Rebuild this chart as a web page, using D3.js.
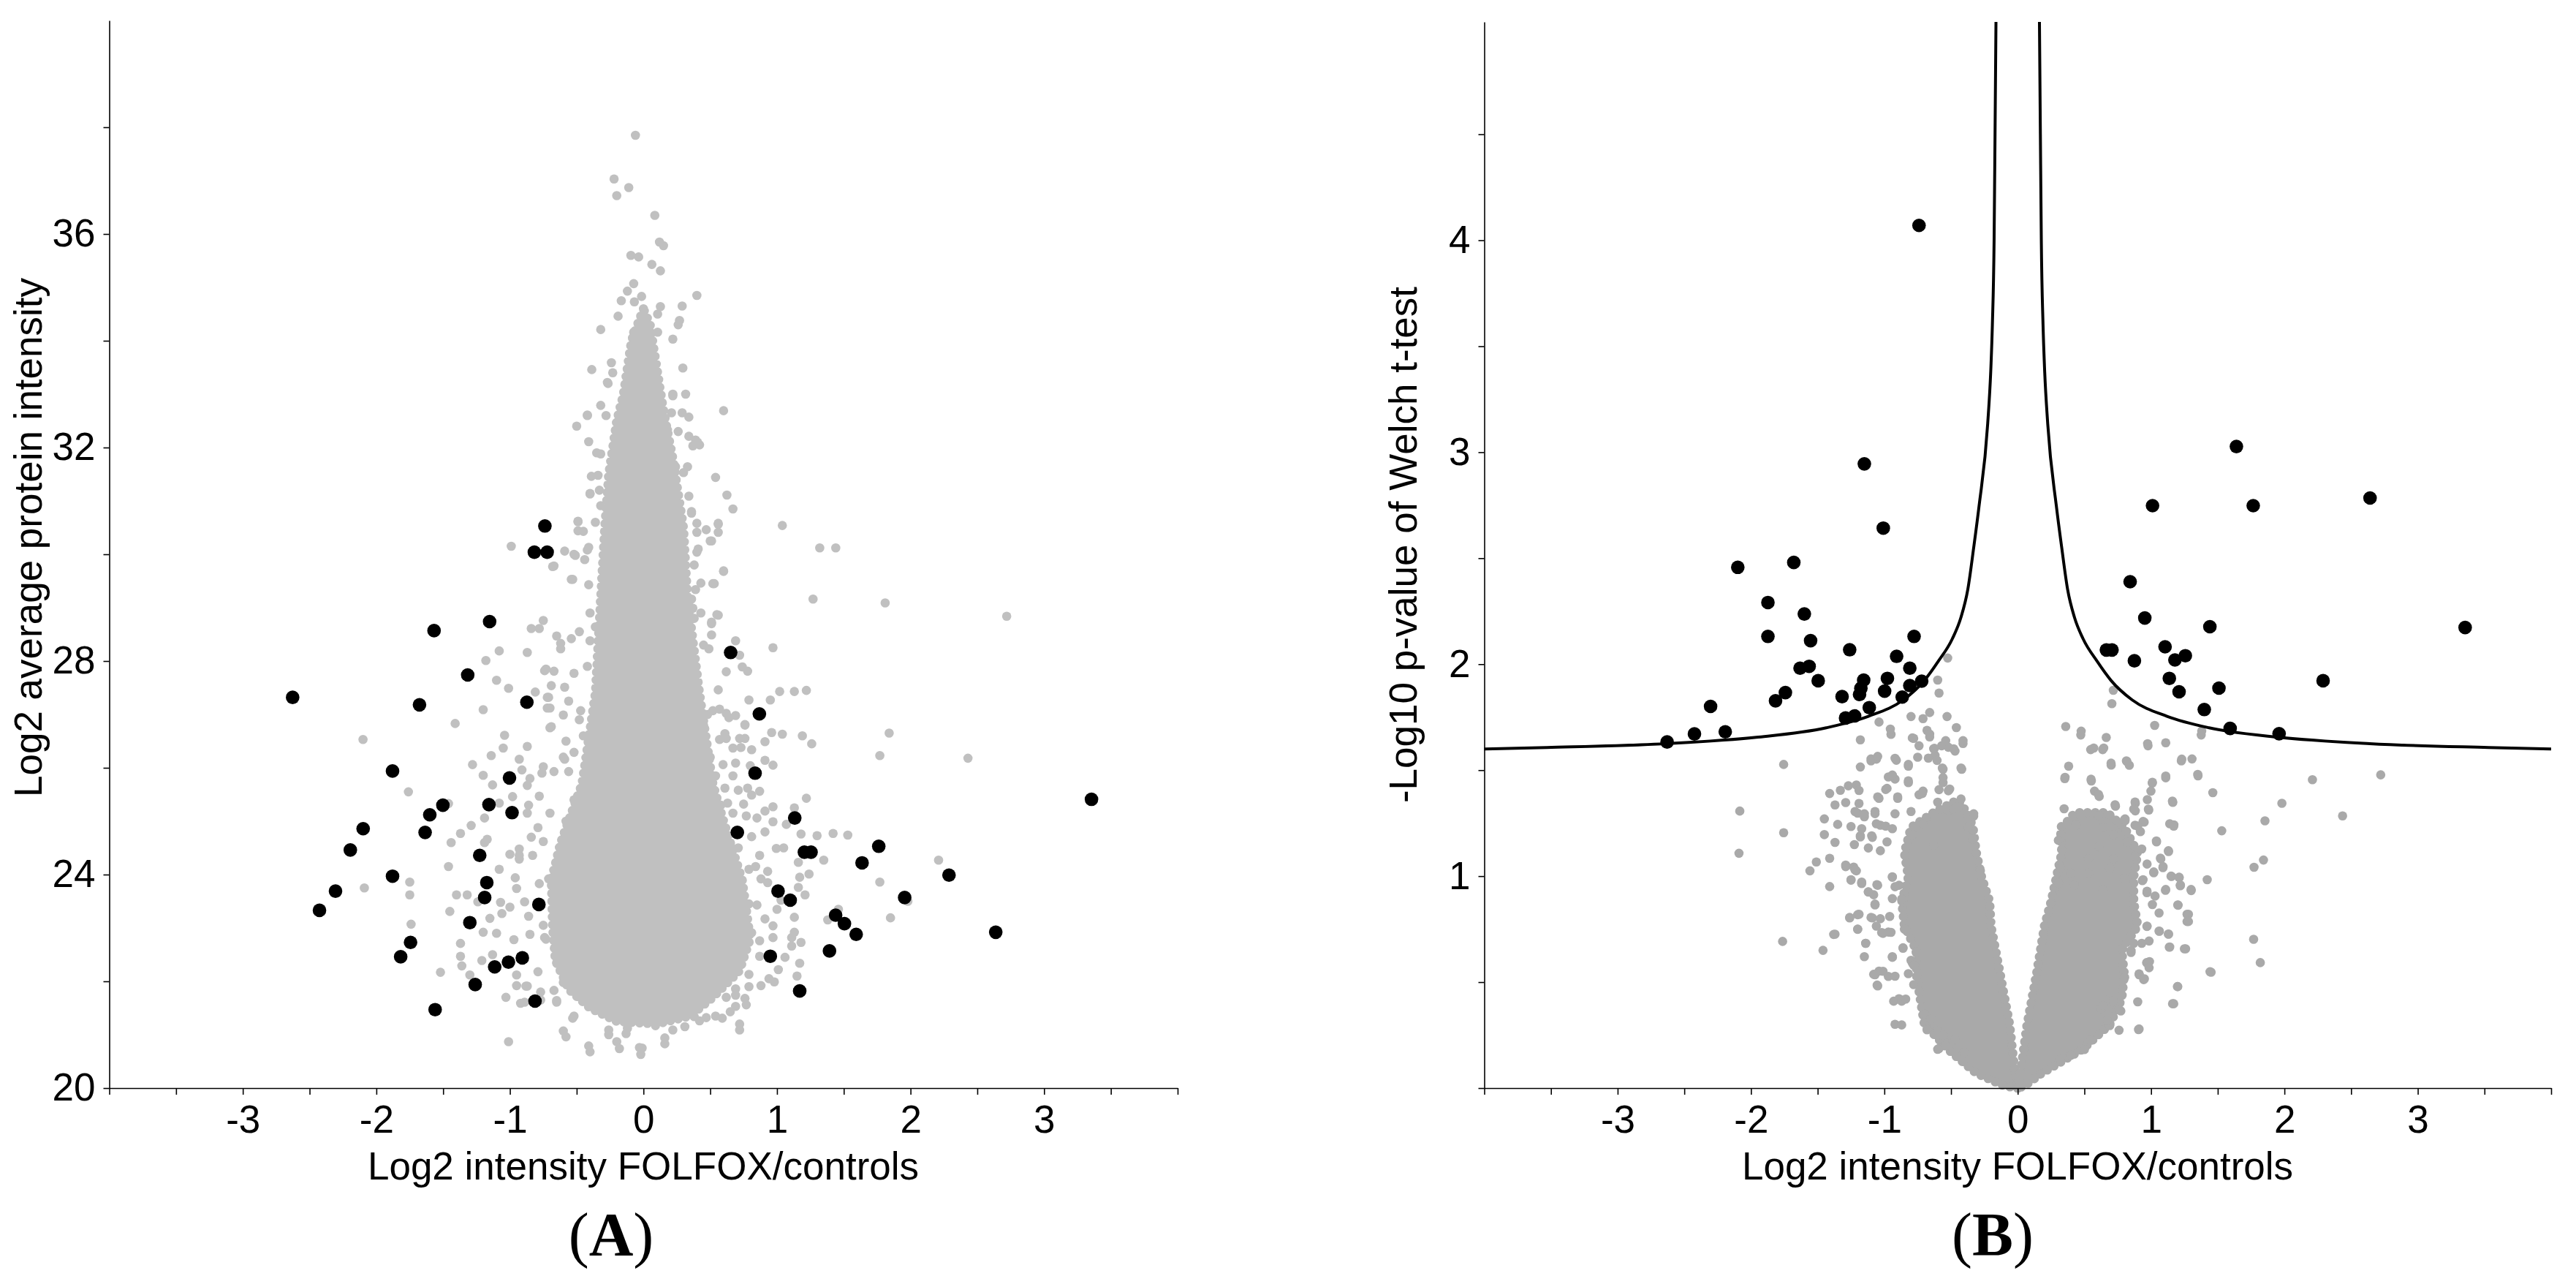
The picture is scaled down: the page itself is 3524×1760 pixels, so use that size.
<!DOCTYPE html>
<html>
<head>
<meta charset="utf-8">
<script src="https://cdn.jsdelivr.net/npm/d3@7"></script>
<style>
  body { margin: 0; background: #fff; }
  svg { display: block; }
  .tick text { font-family: 'Liberation Sans', Arial, sans-serif; font-size: 53px; fill: #000; }
  .axis-title { font-family: 'Liberation Sans', Arial, sans-serif; font-size: 53px; fill: #000; }
  .panel-label { font-family: 'Liberation Serif', 'Times New Roman', serif; font-size: 84px; fill: #000; }
</style>
</head>
<body>
<div id="chart"></div>
<script>
// tick labels
const xTickLabels = [-3, -2, -1, 0, 1, 2, 3];
const aYTickLabels = [20, 24, 28, 32, 36];
const bYTickLabels = [1, 2, 3, 4];

// panel A: outline of the solid core (log2 ratio, log2 intensity)
const aCore = [[0.0,34.6],[-0.09,34.0],[-0.15,33.0],[-0.2,32.5],[-0.26,31.5],[-0.29,30.5],[-0.32,29.2],[-0.36,27.4],
  [-0.46,25.7],[-0.62,24.6],[-0.69,23.9],[-0.68,23.0],[-0.66,22.4],[-0.56,21.85],[-0.40,21.5],[-0.2,21.25],
  [0.1,21.2],[0.35,21.35],[0.52,21.7],[0.72,22.2],[0.80,22.8],[0.74,23.9],[0.60,25.0],[0.52,25.7],[0.42,27.4],
  [0.33,29.2],[0.30,30.5],[0.22,31.8],[0.15,32.7],[0.10,33.5],[0.05,34.3]];

// panel A: other proteins
const aGray = [[-0.06,37.85],[-0.22,37.03],[-0.11,36.87],[-0.20,36.72],[0.085,36.35],[0.12,35.85],[0.15,35.78],[-0.094,35.6],
  [-0.036,35.57],[0.063,35.43],[0.127,35.31],[-0.073,35.07],[-0.12,34.93],[0.40,34.85],[-0.166,34.75],[-0.068,34.73],
  [-0.014,34.83],[0.127,34.64],[0.29,34.65],[-0.19,34.46],[0.106,34.5],[0.022,34.35],[0.27,34.38],[0.26,34.3],[-0.32,34.21],
  [-0.073,34.16],[0.106,34.16],[0.22,34.03],[-0.387,33.46],[-0.24,33.59],[-0.27,33.22],[0.295,33.49],[0.316,33.0],[0.60,32.69],
  [-0.42,32.6],[-0.50,32.4],[-0.41,32.11],[0.405,32.1],[0.37,32.03],[0.54,31.44],[0.625,31.11],[0.67,30.85],[0.36,30.77],
  [-0.49,30.44],[0.40,30.41],[0.56,30.41],[-0.39,31.46],[-0.33,31.2],[-0.40,31.14],[0.24,31.64],[0.33,31.64],[0.18,32.33],
  [0.21,32.65],[0.17,32.01],[0.22,32.97],[0.29,32.65],[0.34,32.21],
  [-0.99,30.15],[-0.68,29.77],[-0.53,29.53],[-0.51,29.98],[-0.59,30.06],[-0.42,30.08],[-0.49,30.61],[-0.75,28.76],[-0.84,28.61],
  [-0.78,28.61],[-1.08,28.19],[-0.87,28.16],[-1.18,28.01],[-1.10,27.64],[-1.01,27.49],[-0.74,27.82],[-0.81,27.42],[-0.69,27.54],
  [-1.20,27.09],[-1.41,26.83],[-0.72,27.32],[-0.72,27.12],[-1.04,26.61],[-1.05,26.37],[-0.87,26.40],[-0.70,26.75],[-2.10,26.53],
  [-1.28,26.06],[-1.14,26.23],[-0.93,26.16],[-1.20,25.86],[-0.91,25.96],[-1.76,25.55],[-1.13,25.68],[-0.98,25.46],[-1.08,25.34],
  [-1.46,25.33],[-0.86,25.30],[-1.19,25.06],[-1.29,24.92],[-1.37,24.77],[-1.44,24.60],[-1.19,24.60],[-1.17,24.66],[-0.93,24.48],
  [-0.84,24.70],[-1.46,24.15],[-1.08,24.10],[-1.00,24.38],[-0.96,23.94],[-0.93,24.29],[-2.09,23.75],[-1.75,23.86],[-1.75,23.62],
  [-1.40,23.62],[-1.32,23.62],[-1.24,23.49],[-1.07,23.48],[-1.00,23.39],[-0.89,23.49],[-1.45,23.31],[-1.15,23.18],[-1.06,23.27],
  [-0.86,23.22],[-1.74,23.07],[-1.37,22.71],[-1.20,22.92],[-1.10,22.90],[-0.97,22.78],[-1.13,22.50],[-1.37,22.47],[-1.36,22.29],
  [-1.52,22.17],[-1.21,22.39],[-1.30,22.12],[-0.95,22.12],[-0.95,21.92],[-0.88,21.91],[-1.03,21.70],[-0.92,21.59],[-0.65,21.64],
  [-0.60,21.07],[-1.01,20.87],[-0.41,20.79],[-0.20,20.87],[-0.03,20.76],[-0.26,21.09],[-0.12,21.12],[-0.53,21.31],[-0.77,21.80],
  [-0.78,23.83],[-0.78,25.47],[-0.87,25.67],[-0.76,25.90],[-0.59,26.16],[-0.74,22.82],[-0.66,22.61],[-0.60,21.98],
  [1.04,30.54],[1.32,30.12],[1.44,30.12],[0.56,30.58],[0.40,30.58],[0.47,30.46],[0.50,30.25],[0.41,30.10],[0.60,29.68],
  [0.52,29.45],[0.43,29.46],[1.27,29.16],[1.81,29.09],[2.72,28.84],[0.36,29.16],[0.37,28.99],[0.38,28.80],[0.55,28.87],
  [0.51,28.70],[0.51,28.49],[0.69,28.38],[0.97,28.25],[0.72,28.11],[0.62,27.80],[0.74,27.89],[0.78,27.81],[0.79,27.27],
  [0.95,27.27],[1.02,27.43],[1.13,27.43],[1.22,27.45],[0.57,27.10],[0.64,26.94],[0.76,26.80],[0.57,26.53],[0.62,26.55],
  [0.73,26.38],[0.76,26.55],[0.81,26.34],[0.91,26.49],[0.96,26.66],[1.04,26.63],[1.19,26.60],[1.26,26.45],[1.84,26.65],
  [1.77,26.23],[2.43,26.18],[0.69,26.09],[0.80,26.04],[0.91,26.14],[0.97,26.05],[0.78,25.62],[0.87,25.56],[1.22,25.43],
  [0.63,25.34],[0.75,25.32],[0.97,25.27],[1.13,25.25],[0.85,25.06],[0.97,24.99],[1.07,24.94],[1.18,24.76],[1.30,24.73],
  [1.42,24.77],[1.53,24.74],[0.995,24.49],[1.05,24.50],[2.21,24.27],[1.35,24.27],[1.16,24.23],[1.24,24.01],[1.17,23.95],
  [1.77,23.86],[0.93,23.85],[1.16,23.76],[1.21,23.62],[1.98,23.50],[1.03,23.52],[1.13,23.20],[1.00,23.35],[1.46,23.35],
  [1.38,23.15],[1.85,23.19],[0.97,23.04],[1.13,22.92],[1.11,22.82],[1.18,22.73],[0.87,22.76],[1.11,22.66],[1.06,22.45],
  [1.01,22.22],[1.17,22.34],[1.15,22.10],[0.94,22.05],[0.98,21.99],[0.79,21.90],[0.88,21.92],[0.76,21.68],[0.69,21.74],
  [0.69,21.53],[0.59,21.31],[0.72,21.20],[0.47,21.32],[0.38,21.34],[0.31,21.15],[0.16,20.94],[-0.01,20.75],[0.24,21.38],
  [0.62,21.70],[0.56,22.19],[0.63,22.54],[0.74,22.89],[0.79,23.45],[0.84,24.15],[0.71,24.50],[0.66,23.45],
  [-0.265,33.2],[-0.32,32.79],[-0.42,32.61],[-0.32,31.88],[-0.34,31.48],[-0.40,31.13],[-0.32,30.91],[-0.49,30.62],
  [-0.45,30.43],[-0.41,30.13],[-0.52,30.0],[-0.67,29.78],[-0.54,29.53],[-0.41,29.43],[-0.62,28.33],[-0.48,28.55],
  [-0.54,28.42],[-0.65,28.47],[-0.62,28.23],[-0.36,28.64],[-0.40,28.38],[-0.73,27.85],[-0.67,27.81],[-0.59,27.51],
  [-0.52,27.77],[-0.71,27.32],[-0.70,27.12],[-0.69,26.77],[-0.60,26.99],[-0.56,27.25],[-0.47,27.07],[-0.58,26.5],
  [-0.60,26.2],[-0.56,25.93],[-0.52,26.29],[-0.67,25.93],[-0.75,26.02],[-0.85,25.8],
  [0.56,30.56],[0.51,30.25],[0.60,29.69],[0.53,29.45],[0.56,28.86],[0.51,28.73],[0.49,28.23],[0.43,28.9],[0.40,30.04],
  [0.39,29.34],[0.42,32.05],[0.34,32.57],[0.39,32.14],[0.30,31.53],[0.34,31.09],[0.56,27.46],[0.52,27.07],[0.62,27.02],
  [0.69,26.98],[0.76,26.81],[0.61,26.64],[0.72,26.55],[0.67,26.37],[0.596,26.06],[0.54,25.85],[0.67,25.85],[0.61,25.62],
  [0.71,25.58],[0.81,25.49],[0.91,25.19],[0.67,25.15],[0.77,25.1],[0.72,24.8],[0.81,24.71],[0.91,24.8],[0.87,24.36],
  [0.79,24.1],[0.88,23.92],[0.93,24.06],[0.85,23.43],[0.91,23.17],[0.81,22.91],[0.97,22.82],[0.87,22.47],[0.79,22.13],
  [0.69,21.86],[0.77,21.56],[0.65,21.43],[0.54,21.35],[0.42,21.26],[0.72,21.09],[0.16,20.83],[-0.02,20.63],[-0.18,20.74],
  [-0.40,20.68],[-0.58,20.96],[-0.26,21.0],[-0.13,21.02],[0.09,21.17],[0.22,21.09],
  [-0.73,22.79],[-0.65,22.35],[-0.79,22.18],[-0.67,21.83],[-0.87,21.91],[-0.77,21.65],[-0.89,21.61],[-0.65,21.61],
  [-0.52,21.35],[-0.75,23.05],[-0.85,22.88],[-0.67,23.22],[-0.79,23.48],[-0.71,23.92],[-0.83,24.36],[-0.75,24.62],
  [-0.79,24.88],[-0.70,25.15],[-0.87,25.15],[-0.93,24.36],[-0.95,23.74],
  [-0.45,26.6],[-0.42,27.9],[-0.48,26.9],[-0.52,25.4],[-0.58,25.0],[-0.50,24.8],[-0.40,28.9],[-0.44,29.9],[-0.36,30.6],
  [-0.35,31.9],[-0.28,32.6],[-0.23,33.4],[0.22,33.0],[0.26,32.3],[0.36,30.8],[0.38,29.8],[0.45,28.3],[0.48,27.0],
  [0.58,25.3],[0.66,24.5],[0.45,26.8],[0.50,26.2]];

// panel A: significant proteins
const aSig = [[-0.738,30.53],[-0.817,30.04],[-0.721,30.04],[-1.152,28.74],[-1.568,28.57],[-1.316,27.74],[-2.627,27.32],
  [-1.677,27.18],[-0.873,27.23],[-1.879,25.94],[-1.003,25.81],[-1.502,25.30],[-1.157,25.31],[-1.600,25.12],[-0.984,25.16],
  [-2.099,24.86],[-1.635,24.79],[-2.195,24.46],[-1.226,24.36],[-1.879,23.97],[-1.173,23.85],[-2.306,23.69],[-1.189,23.57],
  [-0.783,23.44],[-2.426,23.33],[-1.300,23.10],[-1.744,22.73],[-1.818,22.46],[-1.114,22.27],[-1.011,22.36],[-0.907,22.44],
  [-1.260,21.94],[-0.812,21.63],[-1.560,21.47],
  [0.653,28.16],[0.868,27.01],[0.836,25.90],[3.355,25.41],[1.133,25.06],[0.703,24.79],[1.762,24.53],[1.205,24.42],
  [1.255,24.42],[1.637,24.22],[2.288,23.99],[1.008,23.69],[1.099,23.52],[1.956,23.57],[1.439,23.24],[1.505,23.08],
  [1.593,22.88],[2.638,22.92],[1.393,22.57],[0.950,22.47],[1.170,21.82]];

// panel B: solid arms of the volcano (log2 ratio, -log10 p)
const bCoreLeft = [[0,0],[-0.10,0.01],[-0.31,0.07],[-0.50,0.17],[-0.70,0.30],[-0.76,0.535],[-0.76,0.65],[-0.85,0.765],
  [-0.87,0.88],[-0.82,0.995],[-0.85,1.11],[-0.80,1.23],[-0.63,1.30],[-0.45,1.36],[-0.38,1.30],[-0.335,1.23],[-0.31,1.11],
  [-0.27,0.995],[-0.21,0.88],[-0.2,0.765],[-0.13,0.535],[-0.06,0.30],[-0.02,0.07]];
const bCoreRight = [[0,0],[0.02,0.07],[0.07,0.30],[0.14,0.535],[0.2,0.765],[0.25,0.88],[0.29,0.995],[0.33,1.11],
  [0.32,1.23],[0.45,1.30],[0.67,1.30],[0.80,1.23],[0.90,1.11],[0.87,0.995],[0.87,0.88],[0.90,0.765],[0.78,0.65],
  [0.80,0.535],[0.78,0.42],[0.69,0.30],[0.49,0.185],[0.18,0.07],[0.05,0.01]];

const bGray = [[-1.18,1.643],[-1.18,1.515],[-1.755,1.527],[-2.084,1.307],[-1.755,1.205],[-2.09,1.108],[-1.763,0.692],
  [-1.46,0.65],[-1.054,0.486],[-1.08,0.537],[-1.04,0.552],[-0.97,0.527],[-0.93,0.41],[-0.89,0.422],[-0.92,0.301],
  [-0.677,0.28],[-0.553,0.221],[-0.59,0.187],[-0.55,0.2],[-0.40,0.17],[-1.15,0.62],[-1.14,0.683],[-1.2,0.749],[-1.38,0.725],
  [-1.26,0.803],[-1.2,0.818],[-1.09,0.803],[-1.02,0.734],[-0.97,0.736],[-0.94,0.617],[-0.86,0.662],[-0.76,0.642],[-0.79,0.59],
  [-0.82,0.54],[-1.558,1.025],[-1.51,1.067],[-1.41,1.084],[-1.41,0.951],[-1.29,1.045],[-1.23,1.043],[-1.21,1.025],
  [-1.25,0.981],[-1.17,0.965],[-1.12,0.925],[-1.08,0.912],[-1.05,0.957],[-1.07,0.864],[-0.94,0.997],[-0.89,0.957],
  [-0.94,0.894],[-0.86,0.877],[-1.41,1.39],[-1.33,1.405],[-1.27,1.426],[-1.21,1.43],[-1.19,1.404],[-1.37,1.336],
  [-1.29,1.347],[-1.19,1.343],[-1.45,1.27],[-1.35,1.244],[-1.25,1.234],[-1.45,1.196],[-1.37,1.159],[-1.2,1.297],
  [-1.15,1.28],[-1.07,1.295],[-1.18,1.185],[-1.09,1.183],[-1.03,1.24],[-0.98,1.162],[-1.04,1.367],[-0.99,1.409],
  [-0.90,1.367],[-0.92,1.458],[-0.82,1.441],[-1.10,1.544],[-1.06,1.552],[-0.91,1.547],[-0.82,1.519],[-0.75,1.561],
  [-0.79,1.652],[-0.66,1.657],[-0.95,1.669],[-0.63,1.601],[-0.57,1.615],[-0.52,1.608],[-0.42,1.504],[-0.41,1.626],
  [-0.74,1.384],[-0.71,1.247],[-0.60,1.349],[-0.79,1.196],[-0.63,1.145],[-0.52,1.31],[-0.44,1.333],[-0.33,1.283],
  [-0.37,1.23],[-0.34,1.175],[-0.28,1.025],[-0.56,1.504],[-0.56,1.441],[-0.47,1.59],[-0.62,1.57],[-0.51,1.411],
  [-0.71,1.401],[-0.97,1.468],
  [-0.525,2.029],[-0.60,1.925],[-0.59,1.864],[-0.66,1.772],[-0.80,1.753],[-0.53,1.753],[-0.71,1.743],[-1.04,1.727],
  [-0.955,1.694],[-0.46,1.701],[-0.68,1.688],
  [-1.225,1.149],[-1.18,1.19],[-1.12,1.133],[-1.03,1.12],[-1.06,1.247],[-0.99,1.236],[-0.94,1.224],[-1.095,1.19],
  [-1.17,1.224],[-1.22,1.305],[-1.07,1.305],[-0.92,1.294],[-1.15,1.294],[-1.29,1.052],[-1.22,1.03],[-1.25,0.983],
  [-1.17,0.972],[-1.056,0.96],[-1.12,0.926],[-1.07,0.868],[-0.94,0.995],[-0.92,0.95],[-0.87,0.892],[-1.26,0.805],
  [-1.19,0.82],[-1.10,0.805],[-1.03,0.799],[-0.96,0.81],[-1.20,0.75],[-1.06,0.764],[-1.01,0.73],[-0.95,0.735],
  [-0.85,0.75],[-1.37,0.726],[-1.14,0.683],[-0.86,0.66],[-0.76,0.643],[-0.94,0.62],[-0.80,0.603],[-1.07,0.535],
  [-1.01,0.551],[-0.92,0.528],[-0.78,0.488],[-1.05,0.482],[-0.87,0.41],[-0.84,0.42],[-0.78,0.58],[-0.70,0.35],
  [-0.65,0.327],[-0.68,0.275],[-0.60,0.27],[-0.56,0.25],[-0.87,0.298],[-0.47,0.228],[-0.60,0.183],[-0.54,0.2],
  [-1.10,1.553],[-1.05,1.565],[-0.92,1.556],[-0.82,1.527],[-0.82,1.45],[-0.94,1.477],[-0.98,1.414],[-1.05,1.374],
  [-0.90,1.374],[-0.80,1.305],[-0.715,1.39],[-0.78,1.65],[-0.66,1.67],[-0.74,1.615],[-0.625,1.603],[-0.54,1.639],
  [-0.48,1.601],[-0.41,1.639],[-0.67,1.557],[-0.605,1.546],[-0.565,1.51],[-0.425,1.51],[-0.56,1.465],[-0.59,1.408],
  [-0.52,1.403],[-0.425,1.364],[-0.33,1.294],[-0.48,1.317],
  [0.36,1.706],[0.476,1.684],[0.717,1.877],[0.706,1.814],[1.027,1.711],[1.38,1.685],
  [0.473,1.666],[0.664,1.654],[0.547,1.597],[0.637,1.597],[0.977,1.615],[1.11,1.629],[1.376,1.666],[0.382,1.519],
  [0.701,1.524],[0.815,1.544],[0.837,1.523],[1.227,1.544],[1.307,1.553],[0.353,1.46],[0.552,1.449],[1.352,1.473],
  [1.11,1.464],[1.009,1.439],[2.21,1.455],[2.722,1.478],[1.463,1.394],[0.576,1.401],[0.611,1.376],[0.999,1.401],
  [0.972,1.361],[1.981,1.344],[1.163,1.348],[0.882,1.344],[0.733,1.33],[0.348,1.318],[0.412,1.287],[2.436,1.284],
  [1.854,1.261],[0.983,1.312],[0.882,1.308],[0.805,1.262],[0.948,1.255],[1.171,1.242],[1.53,1.214],[0.436,1.242],
  [0.305,1.169],[1.041,1.162],[1.131,1.116],[1.073,1.081],[1.089,1.04],[1.843,1.076],[1.772,1.042],[1.421,0.983],
  [1.153,0.999],[1.211,0.993],[1.219,0.955],[1.301,0.932],[1.108,0.933],[1.203,0.863],[1.27,0.82],[1.27,0.786],
  [0.969,0.922],[1.02,1.016],[0.935,0.979],[0.969,0.763],[1.062,0.74],[1.131,0.726],[1.137,0.665],[1.259,0.657],
  [1.769,0.702],[1.819,0.592],[1.442,0.549],[1.198,0.479],[0.90,0.407],[1.161,0.398],[0.76,0.273],[0.906,0.276],
  [0.967,0.592],[0.988,0.597],[0.911,0.535],[0.945,0.512],[0.85,0.649],[0.802,0.523],[0.773,0.364],[0.69,0.295],
  [0.50,0.182],[0.32,0.136],[0.67,0.415],[0.624,0.375],
  [0.61,1.287],[0.64,1.23],[0.80,1.265],[0.88,1.24],[0.92,1.21],[0.72,1.196],[0.82,1.162],[0.93,1.128],[0.61,1.139],
  [0.53,1.082],[0.72,1.082],[0.88,1.094],[0.53,1.014],[0.69,1.036],[0.80,0.99],[0.425,0.957],[0.64,0.934],[0.32,1.036],
  [0.305,0.968],[0.40,1.014],
  [0.355,1.466],[0.57,1.604],[0.645,1.604],[0.55,1.457],[0.605,1.386],[0.70,1.533],[0.82,1.54],[0.974,1.625],
  [1.23,1.552],[1.35,1.48],[1.11,1.472],[1.01,1.443],[1.16,1.354],[0.88,1.35],[0.73,1.337],[0.98,1.316],[0.87,1.316],
  [0.805,1.27],[1.14,1.247],[1.17,1.236],[0.94,1.258],[0.90,1.236],[1.04,1.166],[1.13,1.12],[1.07,1.085],[1.09,1.045],
  [0.97,1.057],[1.02,1.02],[0.94,0.983],[1.15,1.0],[1.21,0.995],[1.22,0.958],[1.30,0.937],[1.11,0.937],[1.03,0.906],
  [0.97,0.929],[1.20,0.864],[1.28,0.82],[1.28,0.786],[1.06,0.826],[1.01,0.866],[0.97,0.764],[1.06,0.741],[1.13,0.727],
  [1.14,0.666],[1.25,0.657],[0.93,0.683],[0.985,0.694],[0.87,0.683],[0.85,0.64],[0.97,0.59],[0.985,0.568],[0.91,0.539],
  [0.95,0.516],[1.45,0.547],[1.20,0.479],[1.17,0.398],[0.91,0.279],[0.76,0.37],[0.716,0.412],[0.64,0.389],
  [0.67,0.32],[0.55,0.227],[0.40,0.155]];

const bSig = [[-0.74,4.07],[-1.150,2.945],[-1.008,2.642],[-2.099,2.457],[-1.679,2.480],[-1.873,2.291],[-1.600,2.237],
  [-1.873,2.131],[-1.553,2.111],[-0.777,2.131],[-1.260,2.068],[-0.908,2.037],[-1.632,1.981],[-1.564,1.990],[-0.809,1.981],
  [-1.496,1.922],[-1.155,1.925],[-0.977,1.933],[-0.720,1.920],[-0.809,1.899],[-1.176,1.886],[-0.998,1.873],[-1.186,1.857],
  [-1.317,1.847],[-0.866,1.845],[-1.742,1.866],[-1.816,1.827],[-1.113,1.795],[-2.303,1.801],[-1.291,1.746],[-1.223,1.756],
  [-2.193,1.681],[-2.424,1.671],[-2.629,1.633],
  [1.640,3.027],[1.011,2.748],[1.766,2.748],[2.642,2.784],[0.843,2.389],[0.953,2.218],[1.441,2.177],[3.355,2.173],
  [0.665,2.067],[0.707,2.067],[1.105,2.082],[0.875,2.016],[1.179,2.020],[1.257,2.040],[1.137,1.933],[1.509,1.887],
  [1.210,1.870],[2.290,1.922],[1.399,1.786],[1.593,1.697],[1.960,1.672]];

// significance threshold curve, |log2 ratio| side (mirrored for the negative side)
const threshX = [0.163, 0.170, 0.177, 0.190, 0.201, 0.225, 0.29, 0.33, 0.374, 0.426, 0.49, 0.595, 0.70, 0.859, 1.12, 1.435, 1.96, 2.64, 3.53, 4.0];
const threshY = [5.03, 4.5, 4.0, 3.6, 3.40, 3.135, 2.745, 2.55, 2.353, 2.22, 2.12, 2.014, 1.923, 1.831, 1.754, 1.70, 1.655, 1.625, 1.607, 1.60];

const W = 3524, H = 1760;
const GRAY_A = '#c0c0c0', GRAY_B = '#a9a9a9';
const DOT_R = 6.3, SIG_R = 9.3;

const svg = d3.select('#chart').append('svg')
  .attr('width', W)
  .attr('height', H);

const fmt = (d) => String(d);

const drawAxes = (g, x, y, xTicks, yTicks, yLabels) => {
  g.append('g')
    .attr('transform', `translate(0,${y.range()[0]})`)
    .call(d3.axisBottom(x)
      .tickValues(xTicks)
      .tickSize(9)
      .tickSizeOuter(0)
      .tickPadding(14)
      .tickFormat((d) => (xTickLabels.indexOf(d) > -1 ? fmt(d) : '')));

  g.append('g')
    .attr('transform', `translate(${x.range()[0]},0)`)
    .call(d3.axisLeft(y)
      .tickValues(yTicks)
      .tickSize(8)
      .tickSizeOuter(0)
      .tickPadding(11)
      .tickFormat((d) => (yLabels.indexOf(d) > -1 ? fmt(d) : '')));

  g.selectAll('.domain, .tick line')
    .attr('stroke', '#000')
    .attr('stroke-width', 1.6);
};

// solid core: filled outline, edged with a row of touching dots
const drawCore = (g, pts, x, y, color) => {
  const d = d3.line().x((p) => x(p[0])).y((p) => y(p[1])).curve(d3.curveLinearClosed)(pts);
  g.append('path')
    .attr('d', d)
    .attr('fill', color)
    .attr('stroke', color)
    .attr('stroke-width', 4)
    .attr('stroke-linejoin', 'round');
  g.append('path')
    .attr('d', d)
    .attr('fill', 'none')
    .attr('stroke', color)
    .attr('stroke-width', DOT_R * 2)
    .attr('stroke-linecap', 'round')
    .attr('stroke-dasharray', `0 ${DOT_R * 1.7}`);
};

const drawDots = (g, pts, x, y, color, r) => {
  g.append('g')
    .selectAll('circle')
    .data(pts)
    .enter()
    .append('circle')
    .attr('cx', (d) => x(d[0]))
    .attr('cy', (d) => y(d[1]))
    .attr('r', r)
    .attr('fill', color);
};

const halfTicks = d3.range(-8, 9).map((i) => i / 2);

// ---- panel A ----
const xA = d3.scaleLinear().domain([-4, 4]).range([149.5, 1611]);
const yA = d3.scaleLinear().domain([20, 40]).range([1488, 28]);
const gA = svg.append('g').attr('class', 'panel-a');

drawCore(gA, aCore, xA, yA, GRAY_A);
drawDots(gA, aGray, xA, yA, GRAY_A, DOT_R);
drawDots(gA, aSig, xA, yA, '#000', SIG_R);
drawAxes(gA, xA, yA, halfTicks, d3.range(10, 20).map((i) => i * 2), aYTickLabels);

gA.append('text')
  .attr('class', 'axis-title')
  .attr('x', 880)
  .attr('y', 1613)
  .attr('text-anchor', 'middle')
  .text('Log2 intensity FOLFOX/controls');

gA.append('text')
  .attr('class', 'axis-title')
  .attr('transform', 'translate(57,735) rotate(-90)')
  .attr('text-anchor', 'middle')
  .text('Log2 average protein intensity');

const labA = gA.append('text')
  .attr('class', 'panel-label')
  .attr('x', 836)
  .attr('y', 1717)
  .attr('text-anchor', 'middle');
labA.append('tspan').text('(');
labA.append('tspan').attr('font-weight', 'bold').text('A');
labA.append('tspan').text(')');

// ---- panel B ----
const xB = d3.scaleLinear().domain([-4, 4]).range([2030.5, 3490]);
const yB = d3.scaleLinear().domain([0, 5.03]).range([1488, 30]);
const gB = svg.append('g').attr('class', 'panel-b');

drawCore(gB, bCoreLeft, xB, yB, GRAY_B);
drawCore(gB, bCoreRight, xB, yB, GRAY_B);
drawDots(gB, bGray, xB, yB, GRAY_B, DOT_R);

const threshLine = d3.line()
  .x((d) => xB(d[0]))
  .y((d) => yB(d[1]))
  .curve(d3.curveMonotoneX);

const rightSide = threshX.map((v, i) => [v, threshY[i]]);
const leftSide = threshX.map((v, i) => [-v, threshY[i]]).reverse();

[leftSide, rightSide].forEach((side) => {
  gB.append('path')
    .datum(side)
    .attr('d', threshLine)
    .attr('fill', 'none')
    .attr('stroke', '#000')
    .attr('stroke-width', 4);
});

drawDots(gB, bSig, xB, yB, '#000', SIG_R);
drawAxes(gB, xB, yB, halfTicks, d3.range(0, 10).map((i) => i / 2), bYTickLabels);

gB.append('text')
  .attr('class', 'axis-title')
  .attr('x', 2760)
  .attr('y', 1613)
  .attr('text-anchor', 'middle')
  .text('Log2 intensity FOLFOX/controls');

gB.append('text')
  .attr('class', 'axis-title')
  .attr('transform', 'translate(1938,745) rotate(-90)')
  .attr('text-anchor', 'middle')
  .text('-Log10 p-value of Welch t-test');

const labB = gB.append('text')
  .attr('class', 'panel-label')
  .attr('x', 2726)
  .attr('y', 1717)
  .attr('text-anchor', 'middle');
labB.append('tspan').text('(');
labB.append('tspan').attr('font-weight', 'bold').text('B');
labB.append('tspan').text(')');
</script>
</body>
</html>
